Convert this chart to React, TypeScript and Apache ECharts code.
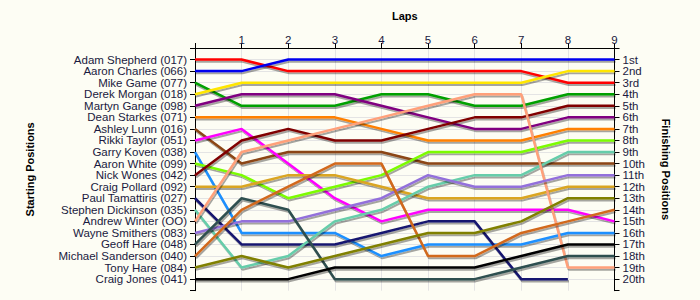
import React, { useEffect, useRef } from "react";
import * as echarts from "echarts";

const laps = [0, 1, 2, 3, 4, 5, 6, 7, 8, 9];
const lapLabels = ["", "1", "2", "3", "4", "5", "6", "7", "8", "9"];

const drivers = [
  "Adam Shepherd (017)",
  "Aaron Charles (066)",
  "Mike Game (077)",
  "Derek Morgan (018)",
  "Martyn Gange (098)",
  "Dean Starkes (071)",
  "Ashley Lunn (016)",
  "Rikki Taylor (051)",
  "Garry Koven (038)",
  "Aaron White (099)",
  "Nick Wones (042)",
  "Craig Pollard (092)",
  "Paul Tamattiris (027)",
  "Stephen Dickinson (035)",
  "Andrew Winter (OO)",
  "Wayne Smithers (083)",
  "Geoff Hare (048)",
  "Michael Sanderson (040)",
  "Tony Hare (084)",
  "Craig Jones (041)",
];

const finishLabels = [
  "1st", "2nd", "3rd", "4th", "5th", "6th", "7th", "8th", "9th", "10th",
  "11th", "12th", "13th", "14th", "15th", "16th", "17th", "18th", "19th", "20th",
];

const colors = [
  "#ff0000", "#0000ee", "#00a000", "#ffe600", "#800080",
  "#ff8000", "#8b4513", "#ff00ff", "#1e90ff", "#7cfc00",
  "#800000", "#daa520", "#191970", "#66cdaa", "#ffa07a",
  "#9370db", "#2f4f4f", "#d2691e", "#808000", "#000000",
];

// positions per lap (lap 0 .. lap 9)
const adamShepherd = [1, 1, 2, 2, 2, 2, 2, 2, 3, 3];
const aaronCharles = [2, 2, 1, 1, 1, 1, 1, 1, 1, 1];
const mikeGame = [3, 5, 5, 5, 4, 4, 5, 5, 4, 4];
const derekMorgan = [4, 3, 3, 3, 3, 3, 3, 3, 2, 2];
const martynGange = [5, 4, 4, 4, 5, 6, 7, 7, 6, 6];
const deanStarkes = [6, 6, 6, 6, 7, 8, 8, 8, 7, 7];
const ashleyLunn = [7, 10, 9, 9, 9, 10, 10, 10, 10, 10];
const rikkiTaylor = [8, 7, 10, 13, 15, 14, 14, 14, 14, 15];
const garryKoven = [9, 16, 16, 16, 18, 17, 17, 17, 16, 16];
const aaronWhite = [10, 11, 13, 12, 11, 9, 9, 9, 8, 8];
const nickWones = [11, 8, 7, 8, 8, 7, 6, 6, 5, 5];
const craigPollard = [12, 12, 11, 11, 12, 13, 13, 13, 12, 12];
const paulTamattiris = [13, 17, 17, 17, 16, 15, 15, 20, 20, null];
const stephenDickinson = [14, 19, 18, 15, 14, 12, 11, 11, 9, 9];
const andrewWinter = [15, 9, 8, 7, 6, 5, 4, 4, 19, 19];
const wayneSmithers = [16, 15, 15, 14, 13, 11, 12, 12, 11, 11];
const geoffHare = [17, 13, 14, 20, 20, 20, 20, 19, 18, 18];
const michaelSanderson = [18, 14, 12, 10, 10, 18, 18, 16, 15, 14];
const tonyHare = [19, 18, 19, 18, 17, 16, 16, 15, 13, 13];
const craigJones = [20, 20, 20, 19, 19, 19, 19, 18, 17, 17];

const positions = [
  adamShepherd, aaronCharles, mikeGame, derekMorgan, martynGange,
  deanStarkes, ashleyLunn, rikkiTaylor, garryKoven, aaronWhite,
  nickWones, craigPollard, paulTamattiris, stephenDickinson, andrewWinter,
  wayneSmithers, geoffHare, michaelSanderson, tonyHare, craigJones,
];

const FONT = "'Liberation Sans', Arial, sans-serif";
const TEXT = "#1a1a40";

export default function App() {
  const ref = useRef<HTMLDivElement>(null);

  useEffect(() => {
    document.body.style.margin = "0";
    if (!ref.current) return;
    const chart = echarts.init(ref.current, null, { renderer: "svg" });

    const splitColors: string[] = [];
    for (let i = 0; i <= 21; i++) {
      splitColors.push(i === 0 || i === 21 ? "rgba(0,0,0,0)" : "#e4e4e4");
    }

    const series = positions.map((pos, i) => ({
      type: "line" as const,
      name: drivers[i],
      xAxisIndex: 0,
      yAxisIndex: 0,
      data: laps
        .map((l, j) => (pos[j] == null ? null : [l, pos[j]]))
        .filter((d) => d !== null),
      symbol: "none",
      lineStyle: {
        color: colors[i],
        width: 2.5,
        shadowColor: "rgba(0,0,0,0.35)",
        shadowBlur: 1,
        shadowOffsetX: 1,
        shadowOffsetY: 2,
      },
      itemStyle: { color: colors[i] },
      z: 2 + i,
    }));

    const labelStyle = {
      fontSize: 11.5,
      lineHeight: 11,
      color: TEXT,
      fontFamily: FONT,
    };

    chart.setOption({
      animation: false,
      backgroundColor: "#fdfdf4",
      textStyle: { fontFamily: FONT },
      grid: { left: 195, right: 85.5, top: 48, bottom: 9.3 },
      xAxis: {
        type: "value",
        position: "top",
        min: 0,
        max: 9,
        interval: 1,
        name: "Laps",
        nameLocation: "middle",
        nameGap: 27,
        nameTextStyle: { fontFamily: FONT, fontWeight: "bold", fontSize: 11, color: "#000" },
        axisLine: { show: true, lineStyle: { color: "#000", width: 1 } },
        axisTick: { show: true, length: 5, lineStyle: { color: "#000" } },
        axisLabel: {
          ...labelStyle,
          margin: 3,
          formatter: (v: number) => lapLabels[Math.round(v)] ?? "",
        },
        splitLine: { show: true, lineStyle: { color: "#e4e4e4", width: 1 } },
      },
      yAxis: [
        {
          type: "value",
          position: "left",
          inverse: true,
          min: 0,
          max: 21,
          interval: 1,
          name: "Starting Positions",
          nameLocation: "middle",
          nameRotate: 90,
          nameGap: 160,
          nameTextStyle: { fontFamily: FONT, fontWeight: "bold", fontSize: 11, color: "#000" },
          axisLine: { show: true, onZero: false, lineStyle: { color: "#000", width: 1 } },
          axisTick: { show: true, length: 5, lineStyle: { color: "#000" } },
          axisLabel: {
            ...labelStyle,
            margin: 8,
            formatter: (v: number) => {
              const k = Math.round(v);
              return k >= 1 && k <= 20 ? drivers[k - 1] : "";
            },
          },
          splitLine: { show: true, lineStyle: { color: splitColors, width: 1 } },
        },
        {
          type: "value",
          position: "right",
          inverse: true,
          min: 0,
          max: 21,
          interval: 1,
          name: "Finishing Positions",
          nameLocation: "middle",
          nameRotate: -90,
          nameGap: 46,
          nameTextStyle: { fontFamily: FONT, fontWeight: "bold", fontSize: 11, color: "#000" },
          axisLine: { show: true, onZero: false, lineStyle: { color: "#000", width: 1 } },
          axisTick: { show: true, length: 5, lineStyle: { color: "#000" } },
          axisLabel: {
            ...labelStyle,
            margin: 8,
            formatter: (v: number) => {
              const k = Math.round(v);
              return k >= 1 && k <= 20 ? finishLabels[k - 1] : "";
            },
          },
          splitLine: { show: false },
        },
      ],
      series,
    });

    return () => chart.dispose();
  }, []);

  return <div ref={ref} style={{ width: 700, height: 300 }} />;
}
